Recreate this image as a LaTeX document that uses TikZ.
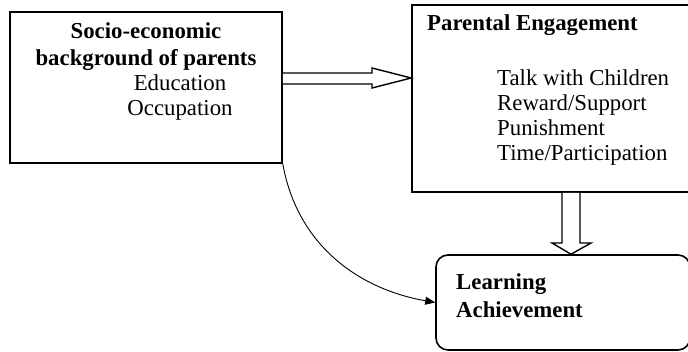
\documentclass[tikz,border=0pt]{standalone}
\usepackage{fontspec}
\setmainfont{Liberation Serif}
\usetikzlibrary{arrows.meta,calc}
\begin{document}
\begin{tikzpicture}[x=1pt,y=1pt,
  boxstyle/.style={draw,line width=1.6pt,inner sep=0pt},
  txt/.style={font=\fontsize{22.8}{25}\selectfont,inner sep=0pt},
  btxt/.style={font=\fontsize{22.8}{27}\selectfont\bfseries,inner sep=0pt},
  hollow/.style={draw,line width=1.4pt,fill=white,line join=miter}]
\useasboundingbox (0,0) rectangle (688,351);
\node[boxstyle,minimum width=272pt,minimum height=151pt] (b1) at (146,263.5) {};
\node[boxstyle,minimum width=278pt,minimum height=187pt] (b2) at (551,252.5) {};
\node[boxstyle,rounded corners=12pt,minimum width=254pt,minimum height=95pt] (b3) at (563,48.5) {};
% text
\node[btxt,align=center] (t1) at (146,304.5) {Socio-economic\\background of parents};
\node[txt,align=center] (t2) at (180,253.5) {Education\\Occupation};
\node[btxt,anchor=west] (t3) at (427,326) {Parental Engagement};
\node[txt,align=left,anchor=west] (t4) at (497,233.5) {Talk with Children\\Reward/Support\\Punishment\\Time/Participation};
\node[btxt,align=left,anchor=west] (t5) at (456,55) {Learning\\[1pt]Achievement};
% hollow arrow b1 -> b2
\draw[hollow] ($(b1.east|-0,278)$) -- (372,278) -- (372,283) -- ($(b2.west|-0,273)$) -- (372,263) -- (372,267) -- ($(b1.east|-0,267)$);
% hollow arrow b2 -> b3
\draw[hollow] ($(b2.south-|562,0)$) -- (562,108) -- (552,108) -- ($(b3.north-|571,0)$) -- (591,108) -- (580,108) -- ($(b2.south-|580,0)$);
% curved connector
\draw[line width=0.9pt,-{Triangle[length=10pt,width=8pt]}] (b1.south east) to[out=-80,in=170] (b3.west);
\end{tikzpicture}
\end{document}
